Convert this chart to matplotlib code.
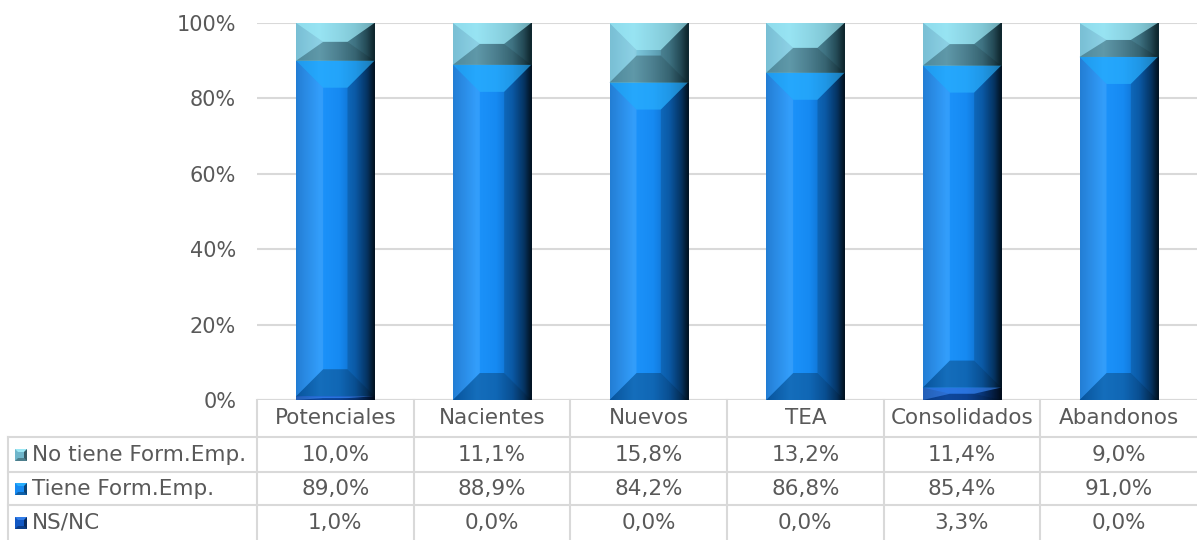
import matplotlib.pyplot as plt
import numpy as np
from matplotlib import transforms
from matplotlib.colors import LinearSegmentedColormap
from matplotlib.patches import Polygon, Rectangle
from matplotlib.lines import Line2D

categories = ["Potenciales", "Nacientes", "Nuevos", "TEA", "Consolidados", "Abandonos"]
series_names = ["No tiene Form.Emp.", "Tiene Form.Emp.", "NS/NC"]
no_tiene = [10.0, 11.1, 15.8, 13.2, 11.4, 9.0]
tiene = [89.0, 88.9, 84.2, 86.8, 85.4, 91.0]
nsnc = [1.0, 0.0, 0.0, 0.0, 3.3, 0.0]
yticks = [0, 20, 40, 60, 80, 100]

TEXT = "#595959"
GRID = "#d9d9d9"
FS = 15.5
plt.rcParams['font.family'] = ['DejaVu Sans']

# gradient colours across the bar width (left -> right)
grads = {
    "nsnc": ['#0c4fb0', '#1560d0', '#1158c4', '#0b3f8c', '#05214a', '#020c1c'],
    "tiene": ['#0b70d0', '#1c93fb', '#168af2', '#0d6ac4', '#073e75', '#021220'],
    "no": ['#6ab8d0', '#80cce2', '#65a9be', '#4a8799', '#2a5664', '#0e262e'],
}
stops = [0, 0.3, 0.55, 0.75, 0.9, 1.0]
key_colors = {"nsnc": "#1158c4", "tiene": "#168af2", "no": "#6fb6cb"}
top_colors = {"nsnc": "#3a86f0", "tiene": "#2cb6ff", "no": "#a8f4ff"}

W, H = 1197, 540
fig = plt.figure(figsize=(W / 100, H / 100), dpi=100)
ax = fig.add_axes([257 / W, 140 / H, 940 / W, 377 / H])

x = np.arange(len(categories))
width = 0.5
bottom = np.zeros(len(categories))
layers = [("nsnc", nsnc), ("tiene", tiene), ("no", no_tiene)]

xpx = 940 / len(categories)   # pixels per x unit
ypx = 377.0                   # pixels per y unit (0..1)
bev = 27.0

for key, vals in layers:
    v = np.array(vals) / 100.0
    bars = ax.bar(x, v, width, bottom=bottom, color=key_colors[key], linewidth=0, zorder=2)
    cmap = LinearSegmentedColormap.from_list(key, list(zip(stops, grads[key])))
    for b in bars:
        x0, y0 = b.get_x(), b.get_y()
        w, h = b.get_width(), b.get_height()
        if h <= 0:
            b.set_visible(False)
            continue
        ax.imshow(np.linspace(0, 1, 256)[None, :], cmap=cmap, extent=(x0, x0 + w, y0, y0 + h),
                  aspect='auto', interpolation='bicubic', zorder=3)
        bx = bev / xpx
        by = min(bev / ypx, h / 2)
        top = Polygon([(x0, y0 + h), (x0 + w, y0 + h), (x0 + w - bx, y0 + h - by), (x0 + bx, y0 + h - by)],
                      facecolor=top_colors[key], alpha=0.6, lw=0, zorder=4)
        bot = Polygon([(x0, y0), (x0 + w, y0), (x0 + w - bx, y0 + by), (x0 + bx, y0 + by)],
                      facecolor='black', alpha=0.25, lw=0, zorder=4)
        left = Polygon([(x0, y0), (x0 + bx, y0 + by), (x0 + bx, y0 + h - by), (x0, y0 + h)],
                       facecolor='white', alpha=0.1, lw=0, zorder=4)
        right = Polygon([(x0 + w, y0), (x0 + w - bx, y0 + by), (x0 + w - bx, y0 + h - by), (x0 + w, y0 + h)],
                        facecolor='black', alpha=0.15, lw=0, zorder=4)
        for p in (top, bot, left, right):
            ax.add_patch(p)
    bottom = bottom + v

ax.set_xlim(-0.5, len(categories) - 0.5)
ax.set_ylim(0, 1)
ax.set_yticks([t / 100 for t in yticks])
ax.set_yticklabels([f"{t}%" for t in yticks], fontsize=FS - 0.5, color=TEXT)
ax.tick_params(axis='y', length=0, pad=15)
ax.set_xticks([])
ax.grid(axis='y', color=GRID, linewidth=1.5, zorder=0)
for s in ax.spines.values():
    s.set_visible(False)
ax.axhline(0, color=GRID, lw=1.5, zorder=1)

# data table below the plot
tr = transforms.blended_transform_factory(ax.transData, fig.transFigure)
fy = lambda py: (H - py) / H
fx = lambda px: px / W
row_lines = [437, 472, 505]
row_centers = [455, 489, 523]
header_c = 418

for py in row_lines:
    fig.add_artist(Line2D([fx(8), 1], [fy(py), fy(py)], color=GRID, lw=1.5, transform=fig.transFigure))
fig.add_artist(Line2D([fx(8), fx(8)], [fy(437), 0], color=GRID, lw=1.5, transform=fig.transFigure))
for b in np.arange(len(categories)) - 0.5:
    fig.add_artist(Line2D([b, b], [fy(400), 0], color=GRID, lw=1.5, transform=tr))

for i, c in enumerate(categories):
    fig.text(i, fy(header_c), c, transform=tr, ha='center', va='center', fontsize=FS, color=TEXT)

table_rows = [("no", no_tiene), ("tiene", tiene), ("nsnc", nsnc)]
for (key, vals), name, cy in zip(table_rows, series_names, row_centers):
    for i, v in enumerate(vals):
        fig.text(i, fy(cy), f"{v:.1f}%".replace(".", ","), transform=tr, ha='center', va='center',
                 fontsize=FS, color=TEXT)
    fig.text(fx(32), fy(cy), name, ha='left', va='center', fontsize=FS, color=TEXT)
    # legend key: small bevelled square
    k0, k1 = 15, 27
    ky0, ky1 = cy + 6, cy - 6
    c = key_colors[key]
    fig.add_artist(Rectangle((fx(k0), fy(ky0)), fx(k1) - fx(k0), fy(ky1) - fy(ky0),
                             facecolor=c, lw=0, transform=fig.transFigure))
    m = 3
    tri = [
        ([(k0, ky1), (k1, ky1), (k1 - m, ky1 + m), (k0 + m, ky1 + m)], top_colors[key], 0.8),
        ([(k0, ky0), (k1, ky0), (k1 - m, ky0 - m), (k0 + m, ky0 - m)], 'black', 0.3),
        ([(k1, ky0), (k1, ky1), (k1 - m, ky1 + m), (k1 - m, ky0 - m)], 'black', 0.5),
    ]
    for pts, col, al in tri:
        fig.add_artist(Polygon([(fx(px), fy(py)) for px, py in pts], facecolor=col, alpha=al, lw=0,
                               transform=fig.transFigure))

fig.savefig("out.png", dpi=100)
